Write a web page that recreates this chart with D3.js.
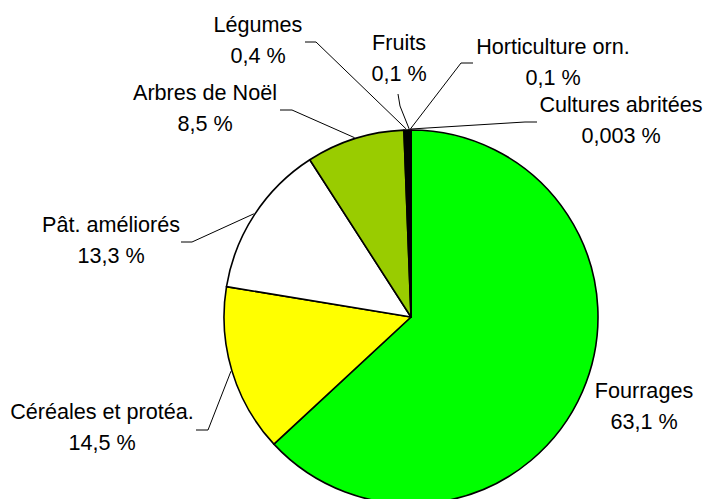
<!DOCTYPE html>
<html>
<head>
<meta charset="utf-8">
<script src="https://cdn.jsdelivr.net/npm/d3@7"></script>
<style>
  html, body { margin: 0; padding: 0; background: #ffffff; }
  svg { display: block; }
  text { font-family: "Liberation Sans", Arial, sans-serif; font-size: 21.6px; fill: #000; }
</style>
</head>
<body>
<svg id="chart" width="706" height="499"></svg>
<script>
// ---- data ----
const categories = ["Fourrages", "Céréales et protéa.", "Pât. améliorés", "Arbres de Noël",
                    "Légumes", "Fruits", "Horticulture orn.", "Cultures abritées"];
const values = [63.1, 14.5, 13.3, 8.5, 0.4, 0.1, 0.1, 0.003];
const valueLabels = ["63,1 %", "14,5 %", "13,3 %", "8,5 %", "0,4 %", "0,1 %", "0,1 %", "0,003 %"];

// ---- styling / layout (not data) ----
const colors = ["#00ff00", "#ffff00", "#ffffff", "#99cc00", "#000000", "#00ff00", "#000000", "#00ff00"];
// label anchor: centre x, first baseline y; elbow: start of leader line near the label (null = no line)
const labelX = [644, 102, 111, 205, 258, 399, 553, 621];
const labelY = [398, 419, 232, 100, 32, 50, 54, 112];
const elbowA = [null, [196, 430], [181, 242], [280, 110], [305, 42], [398, 94], [473, 63], [537, 122]];
const elbowB = [null, [208, 430], [192, 242], [292, 110], [316, 42], [400, 106], [461, 63], [525, 122]];

const cx = 411, cy = 317, R = 187, lineGap = 31;

const svg = d3.select("#chart");
const g = svg.append("g").attr("transform", `translate(${cx},${cy})`);

const pie = d3.pie().sort(null).value(d => d).startAngle(0).endAngle(2 * Math.PI);
const arcs = pie(values);
const arc = d3.arc().innerRadius(0).outerRadius(R);
const edge = d3.arc().innerRadius(R + 1).outerRadius(R + 1);

g.selectAll("path.slice")
  .data(arcs)
  .join("path")
  .attr("class", "slice")
  .attr("d", arc)
  .attr("fill", (d, i) => colors[i])
  .attr("stroke", "#000")
  .attr("stroke-width", 1.6)
  .attr("stroke-linejoin", "round");

// leader lines
arcs.forEach((d, i) => {
  if (!elbowA[i]) return;
  const c = edge.centroid(d);
  const pts = [elbowA[i], elbowB[i], [cx + c[0], cy + c[1]]];
  svg.append("path")
    .attr("d", d3.line()(pts))
    .attr("fill", "none")
    .attr("stroke", "#000")
    .attr("stroke-width", 1);
});

// labels
categories.forEach((name, i) => {
  const t = svg.append("text").attr("text-anchor", "middle");
  t.append("tspan").attr("x", labelX[i]).attr("y", labelY[i]).text(name);
  t.append("tspan").attr("x", labelX[i]).attr("y", labelY[i] + lineGap).text(valueLabels[i]);
});
</script>
</body>
</html>
